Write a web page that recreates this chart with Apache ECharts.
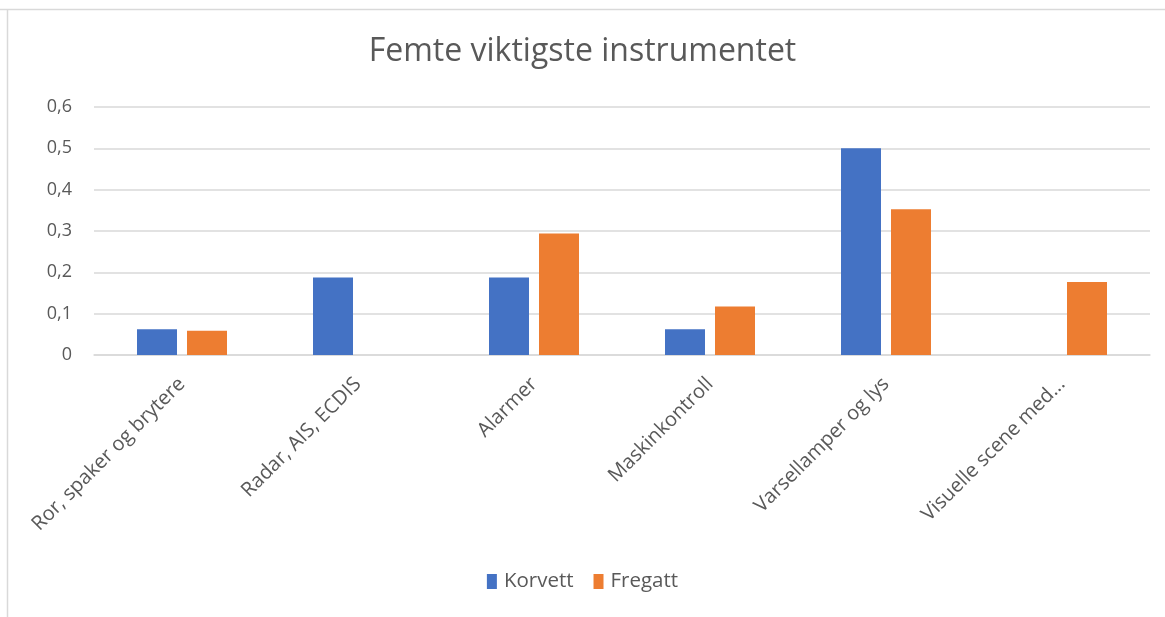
<!DOCTYPE html>
<html>
<head>
<meta charset="utf-8">
<script src="https://cdn.jsdelivr.net/npm/echarts@6/dist/echarts.min.js"></script>
<style>
html, body { margin: 0; padding: 0; background: #fff; }
#chart { width: 1165px; height: 617px; }
</style>
</head>
<body>
<div id="chart"></div>
<script>
var categories = ["Ror, spaker og brytere", "Radar, AIS, ECDIS", "Alarmer", "Maskinkontroll", "Varsellamper og lys", "Visuelle scene med..."];
var korvett = [0.0625, 0.1875, 0.1875, 0.0625, 0.5, 0];
var fregatt = [0.0588, 0, 0.2941, 0.1176, 0.3529, 0.1765];
var color = ["#4472C4", "#ED7D31"];
var textColor = "#595959";
var font = "Open Sans";

var chart = echarts.init(document.getElementById("chart"));
var option = {
    color: color,
    animation: false,
    textStyle: { fontFamily: font },
    title: {
        text: "Femte viktigste instrumentet",
        left: "center",
        top: 31,
        textStyle: { color: textColor, fontSize: 32, fontWeight: "normal", fontFamily: font },
    },
    graphic: [
        { type: "line", shape: { x1: 0, y1: 9.5, x2: 1165, y2: 9.5 }, style: { stroke: "#d9d9d9", lineWidth: 1.5 } },
        { type: "line", shape: { x1: 7.5, y1: 9, x2: 7.5, y2: 617 }, style: { stroke: "#d9d9d9", lineWidth: 1.5 } },
    ],
    grid: { left: 94, right: 15, top: 107, bottom: 262 },
    legend: {
        data: ["Korvett", "Fregatt"],
        bottom: 20,
        left: "center",
        icon: "rect",
        itemWidth: 10,
        itemHeight: 15,
        itemGap: 20,
        textStyle: { color: textColor, fontSize: 20.5, fontFamily: font, padding: [0, 0, 0, 2] },
    },
    xAxis: {
        type: "category",
        data: categories,
        axisLine: { lineStyle: { color: "#d9d9d9", width: 1.5 } },
        axisTick: { show: false },
        axisLabel: { rotate: 45, color: textColor, fontSize: 20, interval: 0, margin: 26 },
    },
    yAxis: {
        type: "value",
        min: 0,
        max: 0.6,
        interval: 0.1,
        axisLine: { show: false },
        axisTick: { show: false },
        splitLine: { lineStyle: { color: "#d9d9d9", width: 1.5 } },
        axisLabel: {
            color: textColor,
            fontSize: 18,
            margin: 22,
            formatter: function (v) { return v === 0 ? "0" : v.toFixed(1).replace(".", ","); },
        },
    },
    series: [
        { name: "Korvett", type: "bar", data: korvett, barWidth: 40, barGap: "25%" },
        { name: "Fregatt", type: "bar", data: fregatt, barWidth: 40, barGap: "25%" },
    ],
};
chart.setOption(option);
</script>
</body>
</html>
